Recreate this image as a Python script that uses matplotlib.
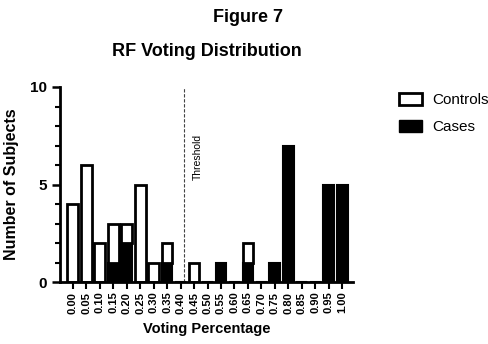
import numpy as np
import matplotlib.pyplot as plt
from matplotlib.patches import Patch

plt.rcParams['font.family'] = ['Liberation Sans', 'DejaVu Sans']

# voting percentage bins and subject counts per bin
bins = ['0.00', '0.05', '0.10', '0.15', '0.20', '0.25', '0.30', '0.35', '0.40', '0.45',
        '0.50', '0.55', '0.60', '0.65', '0.70', '0.75', '0.80', '0.85', '0.90', '0.95', '1.00']
cases = [0, 0, 0, 1, 2, 0, 0, 1, 0, 0, 0, 1, 0, 1, 0, 1, 7, 0, 0, 5, 5]
controls = [4, 6, 2, 2, 1, 5, 1, 1, 0, 1, 0, 0, 0, 1, 0, 0, 0, 0, 0, 0, 0]
threshold_pos = 8.25

W, H = 488, 344
fig = plt.figure(figsize=(W / 100, H / 100), dpi=100)
ax = fig.add_axes([60 / W, (H - 282) / H, (353 - 60) / W, (282 - 87) / H])

x = np.arange(len(bins))
ax.bar(x, cases, width=0.8, color='black', edgecolor='black', linewidth=1.5)
ax.bar(x, controls, width=0.8, bottom=cases, color='white', edgecolor='black', linewidth=2)

ax.axvline(threshold_pos, color='#444444', linestyle='--', linewidth=0.8, dashes=(3, 1.5))
ax.text(threshold_pos + 1.05, 7.6, 'Threshold', rotation=90, fontsize=7.5,
        ha='center', va='top')

ax.set_xlim(-0.95, 20.8)
ax.set_ylim(0, 10)
ax.set_xticks(x)
ax.set_xticklabels(bins, rotation=90, fontsize=8, fontweight='bold')
ax.set_yticks([0, 5, 10])
ax.set_yticks(range(11), minor=True)
ax.tick_params(axis='y', which='major', length=6, width=1.8, labelsize=11)
ax.tick_params(axis='y', which='minor', length=3.5, width=1.5)
ax.tick_params(axis='x', length=5, width=1.5, pad=2)
for lbl in ax.get_yticklabels():
    lbl.set_fontweight('bold')

for side in ['top', 'right']:
    ax.spines[side].set_visible(False)
for side in ['left', 'bottom']:
    ax.spines[side].set_linewidth(2)

ax.set_xlabel('Voting Percentage', fontsize=10.5, fontweight='bold', labelpad=6)
ax.set_ylabel('Number of Subjects', fontsize=11.5, fontweight='bold', labelpad=8)

fig.text(248 / W, 1 - 17 / H, 'Figure 7', fontsize=13, fontweight='bold', ha='center', va='center')
fig.text(207 / W, 1 - 52 / H, 'RF Voting Distribution', fontsize=13, fontweight='bold',
         ha='center', va='center')

handles = [Patch(facecolor='white', edgecolor='black', linewidth=2, label='Controls'),
           Patch(facecolor='black', edgecolor='black', label='Cases')]
fig.legend(handles=handles, loc='upper left', bbox_to_anchor=(385 / W, 1 - 79 / H),
           frameon=False, fontsize=11, handlelength=1.5, handleheight=0.9,
           handletextpad=0.7, labelspacing=0.8)

fig.savefig('out.png', dpi=100)
